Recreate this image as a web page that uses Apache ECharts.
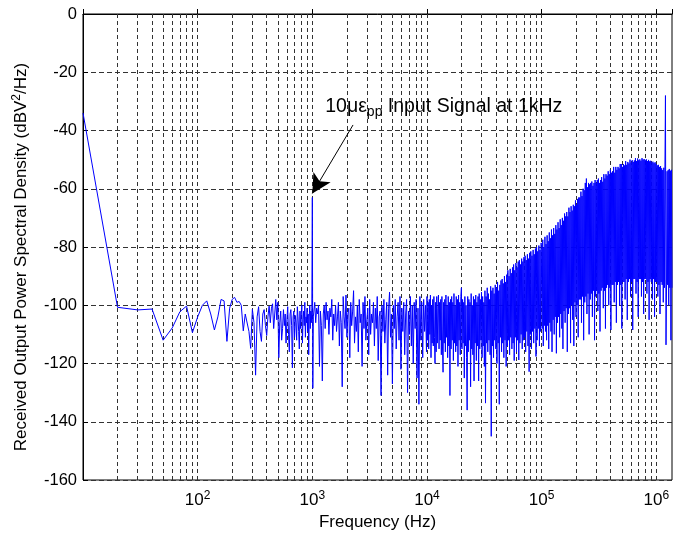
<!DOCTYPE html>
<html>
<head>
<meta charset="utf-8">
<script src="https://cdn.jsdelivr.net/npm/echarts@6/dist/echarts.min.js"></script>
<style>html,body{margin:0;padding:0;background:#fff;}#c{width:680px;height:533px;}</style>
</head>
<body>
<div id="c"></div>
<script>
// ---- data ----
const lowStartHz = 10, lowStepHz = 10;
const lowDb = [-34, -100.7, -101.6, -101.3, -112, -107.8, -102.2, -100.3, -109.4, -104,
  -100, -98.5, -103, -108.5, -104, -98, -98.5, -112.4, -101, -98,
  -97.3, -99, -98.7, -100, -108.8, -103, -102.5, -109, -114.8, -101.4,
  -106, -124, -104, -100.5, -109, -112.4, -103, -101.5, -107, -110.4,
  -104, -100.3, -106, -101, -99.5, -108, -103, -98, -105, -99,
  -118, -106, -102, -112, -108, -101.5, -107, -103, -113, -105,
  -100.5, -110, -116, -103, -101.5, -107, -121.5, -104, -102, -111,
  -103.5, -106, -112, -100.5, -104, -109, -115, -102, -108, -103,
  -100, -113, -105, -102, -107, -99, -111, -104, -106, -101,
  -109, -103, -117, -104, -100, -108, -102, -106, -101];
const peakHz = [1000, 1010, 1020];
const peakDb = [-63, -128.5, -104];

const dec3RangeHz = [1030, 9900];
const dec3Db = [-104,-99,-106,-101,-103,-100,-121,-102,-107,-126,
  -103,-100,-108,-99,-105,-102,-110,-101,-104,-98,
  -112,-103,-107,-100,-109,-104,-99,-114,-102,-106,
  -128,-97,-104,-108,-96.5,-111,-103,-101,-118,-99,
  -107,-102,-95,-113,-104,-109,-100,-116,-98,-106,
  -103,-121,-99,-108,-97,-112,-105,-101,-117,-98,
  -110,-103,-106,-99,-114,-101,-108,-97,-119,-104,
  -102,-131,-100,-109,-98,-113,-105,-99,-124,-101,
  -95.5,-111,-103,-127,-100,-108,-98,-115,-104,-99,
  -112,-97,-122,-101,-109,-99,-117,-103,-98,-130,
  -102,-110,-97,-114,-100,-120,-99,-108,-98,-125,
  -101,-134,-97,-112,-99,-118,-98,-109,-100,-116];

const dec4RangeHz = [10000, 99000];
const dec4Db = [-97,-112,-99,-115,-98,-110,-96.5,-118,-100,-113,
  -98,-114,-97,-111,-120,-99,-116,-97,-113,-101,
  -96.5,-115,-99,-112,-98,-117,-97,-114,-123,-99,
  -113,-98,-116,-96.5,-111,-100,-118,-97,-114,-99,
  -131,-98,-115,-97,-112,-99,-119,-96,-113,-100,
  -116,-97,-114,-98,-121,-96.5,-112,-99,-117,-97,
  -94,-115,-98,-113,-99,-125,-97,-114,-100,-118,
  -136,-97,-116,-98,-112,-99,-128,-96,-115,-100,
  -117,-97,-126,-98,-113,-96.5,-119,-99,-114,-97,
  -126,-96,-115,-98,-112,-95.5,-118,-97,-114,-99,
  -121,-95,-133.6,-97,-113,-94,-116,-96,-112,-98,
  -117,-93.5,-145,-95,-114,-94,-118,-96,-112,-93,
  -115,-94,-120,-92,-113,-95,-134,-93,-111,-91.5,
  -116,-91,-113,-92.5,-118,-90,-112,-92,-121,-89.5,
  -114,-88,-112,-90,-117,-87.5,-111,-89,-115,-87,
  -113,-86,-119,-88,-111,-85.5,-116,-87,-112,-85,
  -118.8,-84.5,-113,-86,-110,-84,-115,-85,-112,-83.5,
  -111,-83,-116,-84.5,-109,-82.5,-114,-84,-122.8,-82,
  -110,-81.5,-115,-83,-109,-81,-113,-82.5,-108,-80.5,
  -117.6,-80,-112,-81.5,-108,-79.5,-114,-81,-109,-78.6];

const dec5RangeHz = [100000, 1370000];
const dec5Db = [-79,-108,-77.5,-114,-80,-107,-76.5,-109,-79,-112,
  -76,-107,-78,-115,-75,-106,-77,-109,-74,-116,
  -76,-105,-73.5,-110,-75.5,-104,-72.5,-116.5,-74,-106,
  -71.5,-104,-73.5,-111,-70.5,-103,-72.5,-108,-70,-115,
  -71,-102,-68.5,-106,-69.5,-101,-68,-116,-69.5,-103,
  -66.5,-101,-68,-113,-66,-100,-67.5,-105,-65.5,-114,
  -66,-99,-64,-104,-65.5,-100,-63.5,-111,-63,-98,
  -63,-98,-61,-106,-62.5,-97,-60,-112,-60.5,-99,
  -58,-97,-56.5,-103,-59.5,-96,-58,-110,-58.5,-98,
  -58,-96,-57.5,-104,-59,-95,-58,-112,-57,-97,
  -58,-95,-57,-102,-56.5,-96,-58,-109,-57,-95,
  -56,-94,-57.6,-101,-55,-95,-56.5,-108,-55,-94,
  -55.5,-93,-54,-100,-55,-94,-53.5,-108.5,-54.5,-93,
  -54,-93,-52.5,-99,-54.5,-92,-52.5,-106,-53.5,-93,
  -52.5,-92,-53,-100,-51.5,-93,-51.5,-108,-52.5,-92,
  -51.5,-92,-52,-98,-50.5,-91,-51.8,-105,-50.8,-92,
  -51.3,-91,-50,-97,-51,-92,-50.2,-108.5,-50.8,-91,
  -50.3,-91,-49.5,-96,-50.5,-92,-49.6,-104,-50.2,-91,
  -49.9,-91,-50.4,-97,-49.5,-92,-50,-103,-49.8,-91,
  -50.2,-91,-49.9,-96,-50.5,-92,-50.1,-105,-50.6,-91,
  -50.4,-92,-51,-98,-50.7,-91,-51.2,-104,-50.9,-92,
  -51.5,-92,-52,-97,-51.8,-93,-52.5,-103,-52.2,-92,
  -53,-93,-53.6,-99,-52.8,-94,-53.5,-28,-113.6,-93,
  -54,-93,-53.6,-100,-53.2,-94,-53.8,-112,-53.5,-94];

// solid core of the dense noise band
const bandHz = [3000, 5000, 10000, 20000, 30000, 42000, 62000, 100000, 143000, 212000, 317000, 472000, 705000, 955000, 1160000, 1370000];
const bandTopDb = [-100.5, -100, -99.5, -99, -98.5, -95, -87, -80, -74, -67, -60, -55.5, -51.5, -52, -54, -55];
const bandBottomDb = [-105, -107, -111, -113, -113.5, -114, -112, -109, -105, -100, -96.5, -94.5, -93.5, -93.5, -94.5, -95];

// minor/major vertical grid positions
const gridHz = [20,30,40,50,60,70,80,90,100,200,300,400,500,600,700,800,900,1000,
  2000,3000,4000,5000,6000,7000,8000,9000,10000,20000,30000,40000,50000,60000,70000,80000,90000,100000,
  200000,300000,400000,500000,600000,700000,800000,900000,1000000];

const xMinHz = 10, xMaxHz = 1370000;
const yMin = -160, yMax = 0, yStep = 20;

const annotText = ['10με', 'pp', ' Input Signal at 1kHz'];
const annotAnchor = [1283, -31.8];
const arrowTail = [2265, -38.1];
const arrowHead = [1000, -61.6];

// ---- build ----
function spread(range, vals) {
  const n = vals.length;
  return vals.map((v, i) => [range[0] * Math.pow(range[1] / range[0], i / (n - 1)), v]);
}
const lineData = []
  .concat(lowDb.map((v, i) => [lowStartHz + i * lowStepHz, v]))
  .concat(peakHz.map((f, i) => [f, peakDb[i]]))
  .concat(spread(dec3RangeHz, dec3Db))
  .concat(spread(dec4RangeHz, dec4Db))
  .concat(spread(dec5RangeHz, dec5Db));

const FONT = 'Liberation Sans, Arial, Helvetica, sans-serif';
const BLUE = '#0000ff';

const chart = echarts.init(document.getElementById('c'), null, {renderer: 'canvas'});
chart.setOption({
  animation: false,
  backgroundColor: '#fff',
  grid: {left: 83, right: 8, top: 14, bottom: 53, show: true, borderColor: '#000', borderWidth: 1,
    backgroundColor: 'transparent', containLabel: false, outerBoundsMode: 'none'},
  xAxis: {
    type: 'log', logBase: 10, min: xMinHz, max: xMaxHz,
    name: 'Frequency (Hz)', nameLocation: 'middle', nameGap: 33,
    nameTextStyle: {fontFamily: FONT, fontSize: 17, color: '#000'},
    axisLine: {lineStyle: {color: '#000', width: 1}},
    axisTick: {inside: true, length: 5, lineStyle: {color: '#000'}},
    splitLine: {show: false},
    axisLabel: {
      margin: 10, color: '#000', fontFamily: FONT,
      formatter: function (v) {
        const l = Math.log10(v), e = Math.round(l);
        if (Math.abs(l - e) > 1e-6 || e < 2) return '';
        return '{b|10}{e|' + e + '}';
      },
      rich: {
        b: {fontSize: 17, lineHeight: 20, fontFamily: FONT, color: '#000'},
        e: {fontSize: 12, lineHeight: 9, verticalAlign: 'top', fontFamily: FONT, color: '#000'}
      }
    }
  },
  yAxis: {
    type: 'value', min: yMin, max: yMax, interval: yStep,
    name: 'Received Output Power Spectral Density (dBV{sup|2}/Hz)',
    nameLocation: 'middle', nameGap: 51,
    nameTextStyle: {fontFamily: FONT, fontSize: 17, color: '#000', lineHeight: 21, padding: [0, 20, 0, 0],
      rich: {sup: {fontSize: 12, lineHeight: 9, verticalAlign: 'top', fontFamily: FONT, color: '#000'}}},
    axisLine: {show: true, lineStyle: {color: '#000', width: 1}},
    axisTick: {inside: true, length: 5, lineStyle: {color: '#000'}},
    axisLabel: {fontFamily: FONT, fontSize: 16.5, color: '#000', margin: 6},
    splitLine: {show: true, lineStyle: {color: '#333', type: [5, 3], width: 1}}
  },
  series: [
    {
      type: 'line', name: 'bandBase', stack: 'band', stackStrategy: 'all', z: 2,
      data: bandHz.map((f, i) => [f, bandBottomDb[i]]),
      symbol: 'none', lineStyle: {width: 0, opacity: 0}, silent: true,
      markLine: {
        silent: true, z: 1, symbol: ['none', 'none'], label: {show: false},
        lineStyle: {color: '#333', type: [4, 3], width: 1},
        emphasis: {disabled: true},
        data: gridHz.map(f => ({xAxis: f}))
      }
    },
    {
      type: 'line', name: 'bandFill', stack: 'band', stackStrategy: 'all', z: 2,
      data: bandHz.map((f, i) => [f, bandTopDb[i] - bandBottomDb[i]]),
      symbol: 'none', lineStyle: {width: 0, opacity: 0}, silent: true,
      areaStyle: {color: BLUE, opacity: 1}
    },
    {
      type: 'line', name: 'psd', z: 3,
      data: lineData, symbol: 'none', showSymbol: false,
      lineStyle: {color: BLUE, width: 1}, silent: true, clip: true,
      markLine: {
        silent: true, z: 6,
        lineStyle: {color: '#000', type: 'solid', width: 1},
        itemStyle: {color: '#000'},
        label: {show: false}, emphasis: {disabled: true},
        data: [[{coord: arrowTail, symbol: 'none'}, {coord: arrowHead, symbol: 'arrow', symbolSize: [15, 19]}]]
      },
      markPoint: {
        silent: true, z: 6,
        data: [{coord: annotAnchor, symbol: 'circle', symbolSize: 1, itemStyle: {color: 'rgba(0,0,0,0)'}}],
        label: {
          show: true, position: 'right', distance: 0,
          formatter: '{n|' + annotText[0] + '}{s|' + annotText[1] + '}{n|' + annotText[2] + '}',
          rich: {
            n: {fontSize: 19.5, lineHeight: 26, fontFamily: FONT, color: '#000'},
            s: {fontSize: 14, lineHeight: 2, verticalAlign: 'bottom', fontFamily: FONT, color: '#000'}
          }
        }
      }
    }
  ]
});
</script>
</body>
</html>
